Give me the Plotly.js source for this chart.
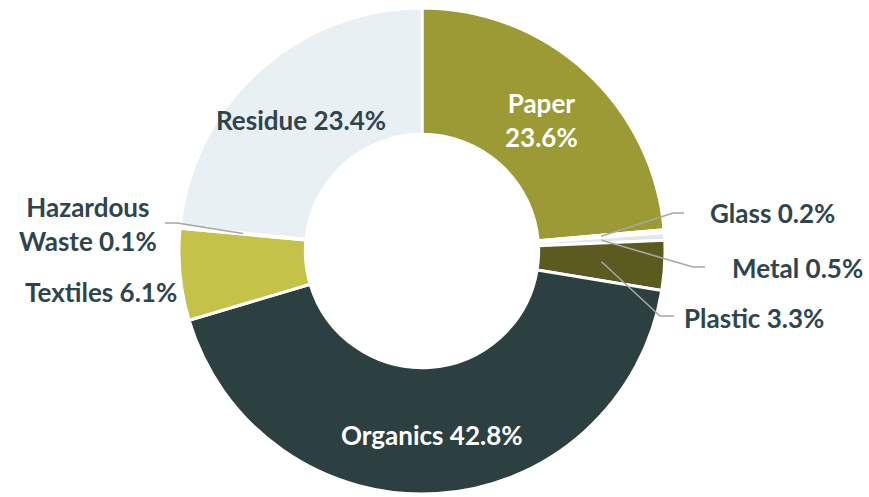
<!DOCTYPE html>
<html>
<head>
<meta charset="utf-8">
<script src="https://cdn.plot.ly/plotly-3.0.1.min.js"></script>
<style>html,body{margin:0;padding:0;background:#fff;}#chart{width:869px;height:497px;}</style>
</head>
<body>
<div id="chart"></div>
<script>
// ---- data ----
var labels = ["Paper", "Glass", "Metal", "Plastic", "Organics", "Textiles", "Hazardous Waste", "Residue"];
var values = [23.6, 0.2, 0.5, 3.3, 42.8, 6.1, 0.1, 23.4];
var sliceColors = ["#9b9a35", "#f2f6f8", "#dfe7ed", "#5b5a1f", "#2c4041", "#c5c249", "#e8eff3", "#e8f0f4"];
var labelTexts = ["Paper<br>23.6%", "Glass 0.2%", "Metal 0.5%", "Plastic 3.3%", "Organics 42.8%", "Textiles 6.1%", "Hazardous<br>Waste 0.1%", "Residue 23.4%"];

// ---- layout constants (pixels) ----
var W = 869, H = 497;
var CX = 422, CY = 251, R = 243, HOLE = 0.48;
var FONT = "Lato, 'Open Sans', sans-serif";
var DARK = "#2f454d";
// label placement: [x, y, color]
var labelPos = [
  [541, 120, "#ffffff"],
  [772, 213, DARK],
  [797, 268, DARK],
  [754, 318, DARK],
  [432, 435, "#ffffff"],
  [101, 292, DARK],
  [88, 224, DARK],
  [301, 120, DARK]
];
// leader lines: index -> [elbow, end]
var leaders = {
  1: [[673, 213], [684, 213]],
  2: [[693, 267], [705, 267]],
  3: [[660, 316], [674, 316]],
  6: [[177, 223], [165, 223]]
};

function px(x) { return x / W; }
function py(y) { return 1 - y / H; }

var total = values.reduce(function (a, b) { return a + b; }, 0);
var cum = 0;
var mids = values.map(function (v) { var m = (cum + v / 2) / total; cum += v; return m; });

var annotations = labelTexts.map(function (t, i) {
  var p = labelPos[i];
  return {
    x: px(p[0]), y: py(p[1]), xref: "paper", yref: "paper",
    xanchor: "center", yanchor: "middle",
    text: t, showarrow: false,
    font: {family: FONT, size: 26, color: p[2], weight: "bold"}
  };
});

var shapes = [];
Object.keys(leaders).forEach(function (k) {
  var i = +k;
  var ang = mids[i] * 2 * Math.PI; // clockwise from 12 o'clock
  var rm = R * (1 + HOLE) / 2;
  var sx = CX + rm * Math.sin(ang), sy = CY - rm * Math.cos(ang);
  var e = leaders[k][0], f = leaders[k][1];
  shapes.push({
    type: "path", xref: "paper", yref: "paper",
    path: "M" + px(sx) + "," + py(sy) + " L" + px(e[0]) + "," + py(e[1]) + " L" + px(f[0]) + "," + py(f[1]),
    line: {color: "#a6a6a6", width: 1.6}
  });
});

var trace = {
  type: "pie",
  labels: labels,
  values: values,
  hole: HOLE,
  sort: false,
  direction: "clockwise",
  rotation: 0,
  textinfo: "none",
  hoverinfo: "label+percent",
  marker: {colors: sliceColors, line: {color: "#ffffff", width: 3}},
  domain: {x: [px(CX - R), px(CX + R)], y: [py(CY + R), py(CY - R)]},
  showlegend: false
};

Plotly.newPlot("chart", [trace], {
  width: W, height: H,
  margin: {l: 0, r: 0, t: 0, b: 0},
  paper_bgcolor: "#ffffff",
  showlegend: false,
  annotations: annotations,
  shapes: shapes
}, {displayModeBar: false, staticPlot: true});
</script>
</body>
</html>
